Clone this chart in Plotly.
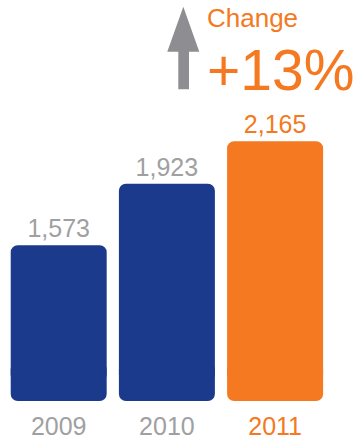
import plotly.graph_objects as go

# Sales by year
years = ["2009", "2010", "2011"]
sales = [1573, 1923, 2165]
change_label = "+13%"

BLUE = "#1c3a8b"
ORANGE = "#f47920"
GRAY_TEXT = "#a0a0a2"
ARROW_GRAY = "#8e8e92"
FONT = "Liberation Sans, Arial, sans-serif"

W, H = 360, 442
bar_colors = [BLUE, BLUE, ORANGE]
label_colors = [GRAY_TEXT, GRAY_TEXT, ORANGE]

# value axis window (the bars start at the bottom edge of the plot)
y_floor, y_ceil = 686, 2969
cap = 110  # height of the rounded bottom cap, in data units
bar_w = 0.887


def px(x, y):
    """Pixel position -> paper coordinates."""
    return x / W, 1 - y / H


fig = go.Figure()

# rounded bottom cap of each bar; it reaches up into the body so no seam shows
cap_top = [y_floor + 2 * cap] * len(sales)
fig.add_trace(go.Bar(
    x=years,
    y=[-2 * cap] * len(sales),
    base=cap_top,
    width=bar_w,
    marker=dict(color=bar_colors, cornerradius=7, line=dict(width=0)),
    hoverinfo="skip",
))

# main body of each bar, rounded at the top
body_base = [y_floor + cap] * len(sales)
fig.add_trace(go.Bar(
    x=years,
    y=[v - b for v, b in zip(sales, body_base)],
    base=body_base,
    width=bar_w,
    marker=dict(color=bar_colors, cornerradius=7, line=dict(width=0)),
    text=[f"{v:,}" for v in sales],
    textposition="outside",
    textfont=dict(family=FONT, size=25, color=label_colors),
    cliponaxis=False,
    hoverinfo="skip",
))

# up arrow next to the change figure
pts = [(178.3, 89.3), (178.3, 51.7), (167.3, 51.7), (183.3, 6.7),
       (199.3, 51.7), (189.0, 51.7), (189.0, 89.3)]
path = "M " + " L ".join("{:.4f},{:.4f}".format(*px(x, y)) for x, y in pts) + " Z"
fig.add_shape(type="path", path=path, xref="paper", yref="paper",
              fillcolor=ARROW_GRAY, line=dict(width=0))

cx, cy = px(205, 18)
fig.add_annotation(text="Change", x=cx, y=cy, xref="paper", yref="paper",
                   xanchor="left", yanchor="middle", showarrow=False,
                   font=dict(family=FONT, size=26, color=ORANGE))
cx, cy = px(205, 70)
fig.add_annotation(text=change_label, x=cx, y=cy, xref="paper", yref="paper",
                   xanchor="left", yanchor="middle", showarrow=False,
                   font=dict(family=FONT, size=57, color=ORANGE))

tick_text = [f'<span style="color:{c}">{y}</span>' for y, c in zip(years, label_colors)]

fig.update_layout(
    width=W, height=H,
    margin=dict(l=0, r=0, t=0, b=0),
    paper_bgcolor="white", plot_bgcolor="white",
    barmode="overlay",
    showlegend=False,
    hovermode=False,
    xaxis=dict(
        type="category", categoryorder="array", categoryarray=years,
        range=[-0.5, 2.5], domain=[4.6 / W, 329.2 / W],
        tickvals=years, ticktext=tick_text,
        tickfont=dict(family=FONT, size=25, color=GRAY_TEXT),
        showgrid=False, zeroline=False, showline=False, ticks="",
        ticklabelstandoff=8,
    ),
    yaxis=dict(
        range=[y_floor, y_ceil], domain=[41 / H, 1],
        visible=False, showgrid=False, zeroline=False,
    ),
)

fig.write_html("out.html", config={"displayModeBar": False})
